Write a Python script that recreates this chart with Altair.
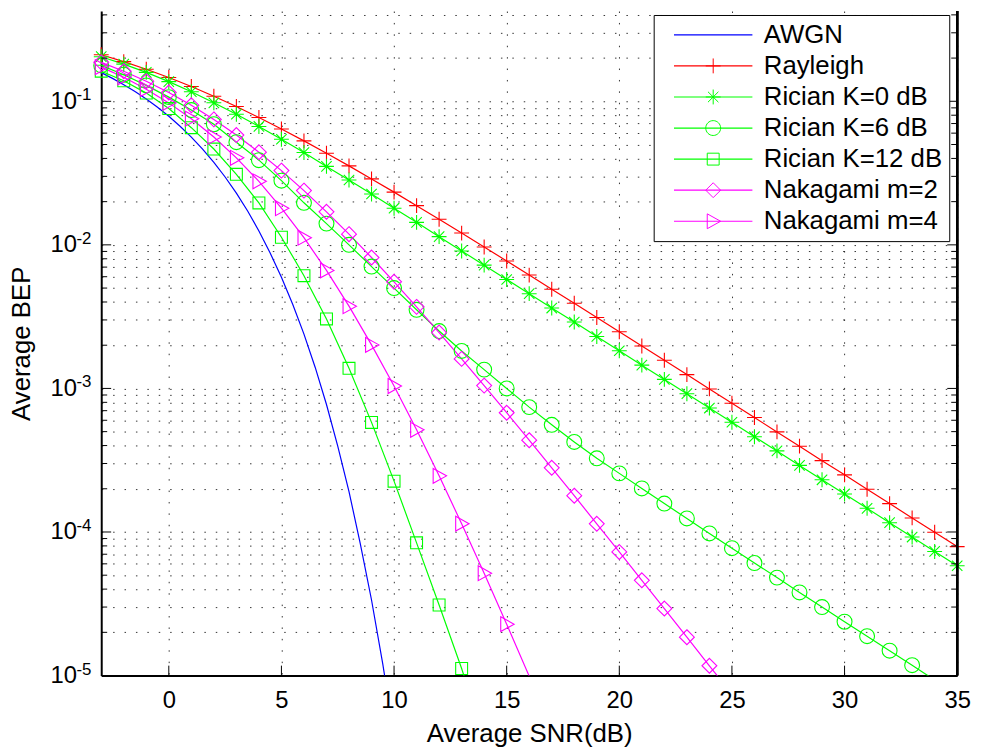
import altair as alt
import pandas as pd

FONT = "Liberation Sans"

series_names = ["AWGN", "Rayleigh", "Rician K=0 dB", "Rician K=6 dB",
                "Rician K=12 dB", "Nakagami m=2", "Nakagami m=4"]
series_colors = ["#0000ff", "#ff0000", "#00ff00", "#00ff00", "#00ff00", "#ff00ff", "#ff00ff"]

snr_db = [-3, -2, -1, 0, 1, 2, 3, 4, 5, 6, 7, 8, 9, 10, 11, 12, 13, 14, 15, 16,
          17, 18, 19, 20, 21, 22, 23, 24, 25, 26, 27, 28, 29, 30, 31, 32, 33, 34, 35]

awgn_snr = [-3, -2.5, -2, -1.5, -1, -0.5, 0, 0.5, 1, 1.5, 2, 2.5, 3, 3.5, 4, 4.5,
            5, 5.5, 6, 6.5, 7, 7.5, 8, 8.5, 9, 9.5, 10]
awgn_bep = [0.1584, 0.1444, 0.1306, 0.1170, 0.1037, 0.0909, 0.0786, 0.0670, 0.0563,
            0.0464, 0.0375, 0.0297, 0.0229, 0.0172, 0.0125, 0.00877, 0.00595, 0.00386,
            0.00239, 0.00140, 0.000773, 0.000396, 0.000191, 0.0000830, 0.0000336,
            0.0000120, 0.00000387]

rayleigh_bep = [0.2111, 0.1890, 0.1673, 0.1464, 0.1267, 0.1085, 0.0919, 0.0771, 0.0642,
                0.0530, 0.0435, 0.0355, 0.0288, 0.0233, 0.01875, 0.01507, 0.01208, 0.00967,
                0.00772, 0.00616, 0.00491, 0.00392, 0.00312, 0.00248, 0.001974, 0.001570,
                0.001248, 0.000992, 0.000789, 0.000627, 0.000498, 0.000396, 0.000314,
                0.000250, 0.0001986, 0.0001577, 0.0001253, 0.0000995, 0.0000791]

rician_k0_bep = [0.2045, 0.1815, 0.1590, 0.1370, 0.1166, 0.0976, 0.0813, 0.0668, 0.0544,
                 0.0440, 0.0352, 0.0283, 0.0226, 0.0180, 0.01435, 0.01141, 0.00907, 0.00722,
                 0.00574, 0.00457, 0.00363, 0.00290, 0.00230, 0.00183, 0.001453, 0.001156,
                 0.000919, 0.000730, 0.000581, 0.000461, 0.000367, 0.000291, 0.000231,
                 0.000184, 0.0001462, 0.0001161, 0.0000922, 0.0000732, 0.0000582]

rician_k6_bep = [0.1778, 0.1531, 0.1291, 0.1069, 0.0869, 0.0692, 0.0519, 0.0389, 0.0280,
                 0.01963, 0.01406, 0.01000, 0.00706, 0.00500, 0.00353, 0.00251, 0.001824,
                 0.001352, 0.001000, 0.000741, 0.000558, 0.000424, 0.000326, 0.000256,
                 0.000201, 0.0001578, 0.0001242, 0.0000977, 0.0000771, 0.0000608,
                 0.0000481, 0.0000379, 0.0000300, 0.0000237, 0.0000188, 0.0000149,
                 0.0000118, 0.0000093, 0.0000074]

rician_k12_bep = [0.162, 0.139, 0.114, 0.089, 0.0655, 0.0465, 0.0310, 0.0196, 0.0113,
                  0.0061, 0.00305, 0.00138, 0.00058, 0.000226, 0.000084, 0.000031,
                  0.0000112, 0.0000036]

nakagami_m2_bep = [0.1867, 0.1621, 0.1380, 0.1151, 0.0939, 0.0748, 0.0582, 0.0442, 0.0329,
                   0.02387, 0.01699, 0.01187, 0.00816, 0.00553, 0.00370, 0.00245, 0.001606,
                   0.001046, 0.000677, 0.000436, 0.000280, 0.000179, 0.000114, 0.0000726,
                   0.0000461, 0.0000293, 0.0000185, 0.0000117, 0.0000074]

nakagami_m4_bep = [0.1730, 0.1469, 0.1215, 0.0975, 0.0756, 0.0564, 0.0404, 0.0277, 0.0180,
                   0.01122, 0.00664, 0.00374, 0.00201, 0.001039, 0.000515, 0.000246,
                   0.0001143, 0.0000516, 0.0000228, 0.0000099]

x_ticks = [0, 5, 10, 15, 20, 25, 30, 35]
y_major = [1e-5, 1e-4, 1e-3, 1e-2, 1e-1]
y_exponents = ["-5", "-4", "-3", "-2", "-1"]
y_minor = [2e-5, 3e-5, 4e-5, 5e-5, 6e-5, 7e-5, 8e-5, 9e-5,
           2e-4, 3e-4, 4e-4, 5e-4, 6e-4, 7e-4, 8e-4, 9e-4,
           2e-3, 3e-3, 4e-3, 5e-3, 6e-3, 7e-3, 8e-3, 9e-3,
           2e-2, 3e-2, 4e-2, 5e-2, 6e-2, 7e-2, 8e-2, 9e-2,
           0.2, 0.3, 0.4]

# marker outlines (unit square -1..1)
marker_paths = [
    "M0,0L0,0",
    "M-1,0H1M0,-1V1",
    "M-1,0H1M0,-1V1M-0.7,-0.7L0.7,0.7M-0.7,0.7L0.7,-0.7",
    "M1,0A1,1 0 1,1 -1,0A1,1 0 1,1 1,0Z",
    "M-0.8,-0.8H0.8V0.8H-0.8Z",
    "M0,-1L1,0L0,1L-1,0Z",
    "M-0.8,-1L1,0L-0.8,1Z",
]
legend_line = "M-5.27,0H5.27"

rows = []
all_x = [awgn_snr] + [snr_db] * 6
all_y = [awgn_bep, rayleigh_bep, rician_k0_bep, rician_k6_bep, rician_k12_bep,
         nakagami_m2_bep, nakagami_m4_bep]
for name, xs, ys in zip(series_names, all_x, all_y):
    for x, y in zip(xs, ys):
        rows.append({"series": name, "snr": x, "bep": y})
df = pd.DataFrame(rows)

W, H = 863, 670
xscale = alt.Scale(domain=[-3, 35], nice=False, zero=False)
yscale = alt.Scale(type="log", domain=[1e-5, 0.4254], nice=False)
color_scale = alt.Scale(domain=series_names, range=series_colors)
shape_scale = alt.Scale(domain=series_names, range=marker_paths)

common_legend = dict(
    title=None, orient="none", legendX=557, legendY=4, padding=7,
    cornerRadius=0, rowPadding=5.33, labelFont=FONT, labelFontSize=26,
    labelLimit=500, symbolSize=225, symbolOffset=40, labelOffset=38,
)
line_legend = alt.Legend(
    fillColor="white", strokeColor="black", labelColor="black",
    symbolType=legend_line, symbolStrokeWidth=1.2, zindex=0, **common_legend)
marker_legend = alt.Legend(
    labelColor="black", labelOpacity=0, symbolStrokeWidth=1, zindex=1,
    **common_legend)

x_axis = alt.Axis(values=x_ticks, title="Average SNR(dB)", ticks=False, grid=True,
                  labelFlush=False, labelPadding=13, titlePadding=9)
y_axis = alt.Axis(values=y_major + y_minor, title="Average BEP", ticks=False, grid=True,
                  labelExpr="abs(log(datum.value)/LN10 - round(log(datum.value)/LN10)) < 0.001 ? '10' : ''",
                  labelOverlap=False, labelPadding=25, titlePadding=16)

lines = alt.Chart(df).mark_line(strokeWidth=1.2, clip=True).encode(
    x=alt.X("snr:Q", scale=xscale, axis=x_axis),
    y=alt.Y("bep:Q", scale=yscale, axis=y_axis),
    stroke=alt.Stroke("series:N", sort=series_names,
                      scale=alt.Scale(range=series_colors), legend=line_legend),
)

points = alt.Chart(df).transform_filter(
    "datum.series != 'AWGN' && datum.bep >= 1e-5"
).mark_point(size=225, filled=False, strokeWidth=1.1, opacity=1).encode(
    x=alt.X("snr:Q", scale=xscale),
    y=alt.Y("bep:Q", scale=yscale),
    color=alt.Color("series:N", scale=color_scale, legend=marker_legend),
    shape=alt.Shape("series:N", scale=shape_scale, legend=marker_legend),
)

maj_df = pd.DataFrame({"bep": y_major, "exp": y_exponents})
min_df = pd.DataFrame({"bep": y_minor})
xt_df = pd.DataFrame({"snr": x_ticks})

tick_style = dict(color="black", strokeWidth=1)
left_major = alt.Chart(maj_df).mark_rule(**tick_style).encode(
    y=alt.Y("bep:Q", scale=yscale), x=alt.value(0), x2=alt.value(10))
left_minor = alt.Chart(min_df).mark_rule(**tick_style).encode(
    y=alt.Y("bep:Q", scale=yscale), x=alt.value(0), x2=alt.value(6))
right_major = alt.Chart(maj_df).mark_rule(**tick_style).encode(
    y=alt.Y("bep:Q", scale=yscale), x=alt.value(W - 10), x2=alt.value(W))
right_minor = alt.Chart(min_df).mark_rule(**tick_style).encode(
    y=alt.Y("bep:Q", scale=yscale), x=alt.value(W - 6), x2=alt.value(W))
bottom_ticks = alt.Chart(xt_df).mark_rule(**tick_style).encode(
    x=alt.X("snr:Q", scale=xscale), y=alt.value(H - 10), y2=alt.value(H))
right_border = alt.Chart(xt_df).mark_rule(color="black", strokeWidth=2).encode(
    x=alt.datum(35, scale=xscale))
exponents = alt.Chart(maj_df).mark_text(
    align="left", baseline="middle", font=FONT, fontSize=17, dy=-6, color="black"
).encode(y=alt.Y("bep:Q", scale=yscale), x=alt.value(-25), text="exp:N")

chart = alt.layer(
    lines, points, left_major, left_minor, right_major, right_minor,
    bottom_ticks, right_border, exponents
).properties(
    width=W, height=H,
    padding={"left": 94, "top": 0, "right": 22, "bottom": 70},
    autosize=alt.AutoSizeParams(type="none"),
    background="white",
).configure_view(stroke=None).configure_axis(
    labelFont=FONT, titleFont=FONT, labelFontSize=24, titleFontSize=26,
    labelColor="black", titleColor="black", titleFontWeight="normal",
    domainColor="black", domainWidth=2, gridColor="black", gridOpacity=0.8,
    gridDash=[1.5, 10], gridWidth=1,
)

chart.save("out.html", embed_options={"renderer": "svg", "actions": False})
